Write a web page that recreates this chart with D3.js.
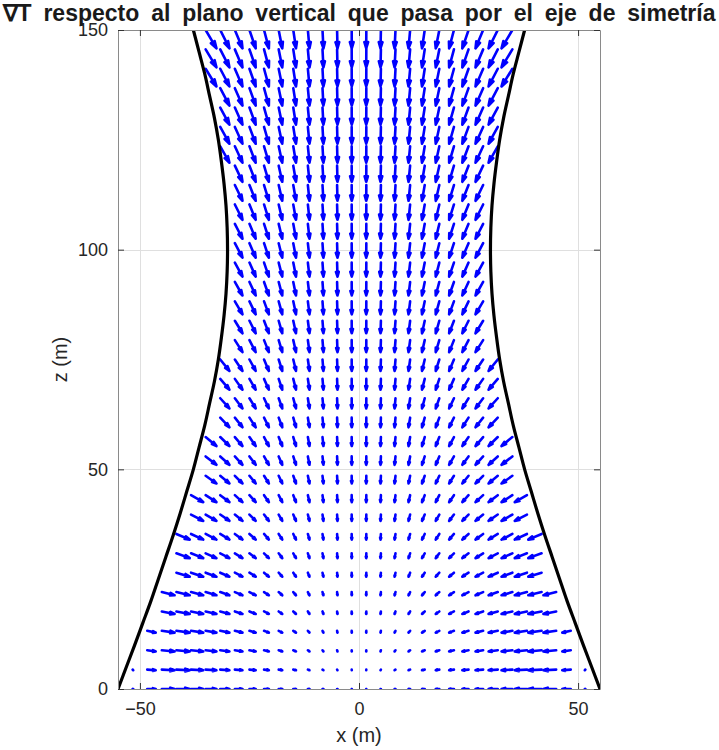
<!DOCTYPE html>
<html>
<head>
<meta charset="utf-8">
<script src="https://cdn.jsdelivr.net/npm/d3@7"></script>
<style>
  body { margin: 0; background: #fff; }
  svg { display: block; font-family: "Liberation Sans", Arial, Helvetica, sans-serif; }
</style>
</head>
<body>
<script>
const width = 719;
const height = 750;
const plot = { left: 118, right: 600, top: 30, bottom: 689 };

// grid rows (z, m) and right-half grid columns (x, m); left half is the mirror
const zRows = [0, 4.41, 8.82, 13.24, 17.65, 22.06, 26.47, 30.88, 35.29, 39.71, 44.12,
  48.53, 52.94, 57.35, 61.76, 66.18, 70.59, 75, 79.41, 83.82, 88.24, 92.65, 97.06,
  101.47, 105.88, 110.29, 114.71, 119.12, 123.53, 127.94, 132.35, 136.76, 141.18,
  145.59, 150];
const xCols = [1.67, 5, 8.33, 11.67, 15, 18.33, 21.67, 25, 28.33, 31.67, 35, 38.33,
  41.67, 45, 48.33, 51.67];

// horizontal component of grad T per column (right half, scaled arrow units)
const gradX = [-0.02, -0.09, -0.21, -0.37, -0.62, -0.82, -1.10, -1.42, -1.74, -2.10,
  -2.47, -2.79, -3.04, -2.92, -1.94, -0.14];
// vertical component of grad T per row
const gradZ = [0, -0.14, -0.27, -0.41, -0.57, -0.73, -0.91, -1.09, -1.28, -1.44, -1.59,
  -1.75, -1.91, -2.05, -2.19, -2.32, -2.46, -2.60, -2.73, -2.85, -2.96, -3.08, -3.19,
  -3.30, -3.39, -3.49, -3.58, -3.67, -3.74, -3.83, -3.90, -3.96, -4.03, -4.10, -4.17];
// outermost column index inside the tower for each row
const lastCol = [15, 15, 14, 14, 13, 13, 12, 12, 12, 11, 11, 10, 10, 10, 9, 9, 9, 9,
  8, 8, 8, 8, 8, 8, 8, 8, 8, 8, 9, 9, 9, 9, 10, 10, 10];

// tower wall: radius (m) at height z (m)
const wallZ = [0, 5, 10, 15, 20, 25, 30, 35, 40, 45, 50, 55, 60, 65, 70, 75, 80, 85, 90,
  95, 100, 105, 110, 115, 120, 125, 130, 135, 140, 145, 150];
const wallR = [55.0, 53.1, 51.2, 49.35, 47.5, 45.8, 44.1, 42.4, 40.8, 39.3, 37.8, 36.5,
  35.2, 34.1, 33.0, 32.1, 31.4, 30.8, 30.35, 30.09, 30.0, 30.09, 30.35, 30.8, 31.4,
  32.1, 33.0, 34.1, 35.2, 36.5, 37.8];

const xTicks = [-50, 0, 50];
const zTicks = [0, 50, 100, 150];
const titleText = '\u2207T respecto al plano vertical que pasa por el eje de simetría';

const x = d3.scaleLinear([-55, 55], [plot.left, plot.right]);
const y = d3.scaleLinear([0, 150], [plot.bottom, plot.top]);

const svg = d3.select('body').append('svg')
  .attr('width', width)
  .attr('height', height);

svg.append('defs').append('clipPath').attr('id', 'clip')
  .append('rect')
  .attr('x', plot.left).attr('y', plot.top)
  .attr('width', plot.right - plot.left)
  .attr('height', plot.bottom - plot.top);

// grid
const grid = svg.append('g').attr('stroke', '#dfdfdf').attr('stroke-width', 1);
grid.selectAll('.gx').data(xTicks).enter().append('line')
  .attr('x1', d => Math.round(x(d)) + 0.5).attr('x2', d => Math.round(x(d)) + 0.5)
  .attr('y1', plot.top).attr('y2', plot.bottom);
grid.selectAll('.gz').data(zTicks).enter().append('line')
  .attr('y1', d => Math.round(y(d)) + 0.5).attr('y2', d => Math.round(y(d)) + 0.5)
  .attr('x1', plot.left).attr('x2', plot.right);

// quiver
const arrows = [];
zRows.forEach((z0, k) => {
  for (let j = 0; j <= lastCol[k]; j++) {
    [1, -1].forEach(s => {
      arrows.push({ x0: s * xCols[j], z0: z0, u: s * gradX[j], v: gradZ[k] });
    });
  }
});

const alpha = 0.34;
const beta = 0.3;
function arrowPath(d) {
  const tx = d.x0 + d.u;
  const tz = d.z0 + d.v;
  const p = d3.path();
  p.moveTo(x(d.x0), y(d.z0));
  p.lineTo(x(tx), y(tz));
  p.moveTo(x(tx - alpha * (d.u + beta * d.v)), y(tz - alpha * (d.v - beta * d.u)));
  p.lineTo(x(tx), y(tz));
  p.lineTo(x(tx - alpha * (d.u - beta * d.v)), y(tz - alpha * (d.v + beta * d.u)));
  return p.toString();
}

svg.append('g')
  .attr('clip-path', 'url(#clip)')
  .selectAll('.arrow')
  .data(arrows)
  .enter()
  .append('path')
  .attr('class', 'arrow')
  .attr('d', arrowPath)
  .attr('fill', 'none')
  .attr('stroke', '#0000ff')
  .attr('stroke-width', 2.6)
  .attr('stroke-linecap', 'round')
  .attr('stroke-linejoin', 'round');

// tower wall
const wallPts = wallZ.map((z, i) => ({ z, r: wallR[i] }));
const wallLine = side => d3.line()
  .x(d => x(side * d.r))
  .y(d => y(d.z))
  .curve(d3.curveCatmullRom);
const wall = svg.append('g').attr('clip-path', 'url(#clip)');
[-1, 1].forEach(side => {
  wall.append('path')
    .attr('d', wallLine(side)(wallPts))
    .attr('fill', 'none')
    .attr('stroke', '#000')
    .attr('stroke-width', 3.2);
});

// axes
function styleAxis(g) {
  g.select('.domain').attr('stroke', '#8a8a8a');
  g.selectAll('.tick line').attr('stroke', '#333');
  g.selectAll('.tick text').attr('fill', '#262626').attr('font-size', 18);
}

svg.append('g')
  .attr('transform', `translate(0,${plot.bottom})`)
  .call(d3.axisBottom(x).tickValues(xTicks).tickSize(-6).tickSizeOuter(0).tickPadding(13))
  .call(styleAxis)
  .call(g => g.attr('font-family', null));

svg.append('g')
  .attr('transform', `translate(0,${plot.top})`)
  .call(d3.axisTop(x).tickValues(xTicks).tickSize(-6).tickSizeOuter(0).tickFormat(''))
  .call(styleAxis);

svg.append('g')
  .attr('transform', `translate(${plot.left},0)`)
  .call(d3.axisLeft(y).tickValues(zTicks).tickSize(-6).tickSizeOuter(0).tickPadding(10))
  .call(styleAxis)
  .call(g => g.attr('font-family', null));

svg.append('g')
  .attr('transform', `translate(${plot.right},0)`)
  .call(d3.axisRight(y).tickValues(zTicks).tickSize(-6).tickSizeOuter(0).tickFormat(''))
  .call(styleAxis);

// labels
svg.append('text')
  .attr('x', (plot.left + plot.right) / 2)
  .attr('y', 742)
  .attr('text-anchor', 'middle')
  .attr('font-size', 20)
  .attr('fill', '#262626')
  .text('x (m)');

svg.append('text')
  .attr('transform', `translate(67,${(plot.top + plot.bottom) / 2}) rotate(-90)`)
  .attr('text-anchor', 'middle')
  .attr('font-size', 20)
  .attr('fill', '#262626')
  .text('z (m)');

const title = svg.append('text')
  .attr('x', (plot.left + plot.right) / 2)
  .attr('y', 21)
  .attr('text-anchor', 'middle')
  .attr('font-size', 23)
  .attr('font-weight', 'bold')
  .attr('fill', '#1a1a1a')
  .text(titleText);
const natural = title.node().getComputedTextLength();
const gaps = titleText.split(' ').length - 1;
title.attr('word-spacing', Math.max(0, (713 - natural) / gaps));
</script>
</body>
</html>
